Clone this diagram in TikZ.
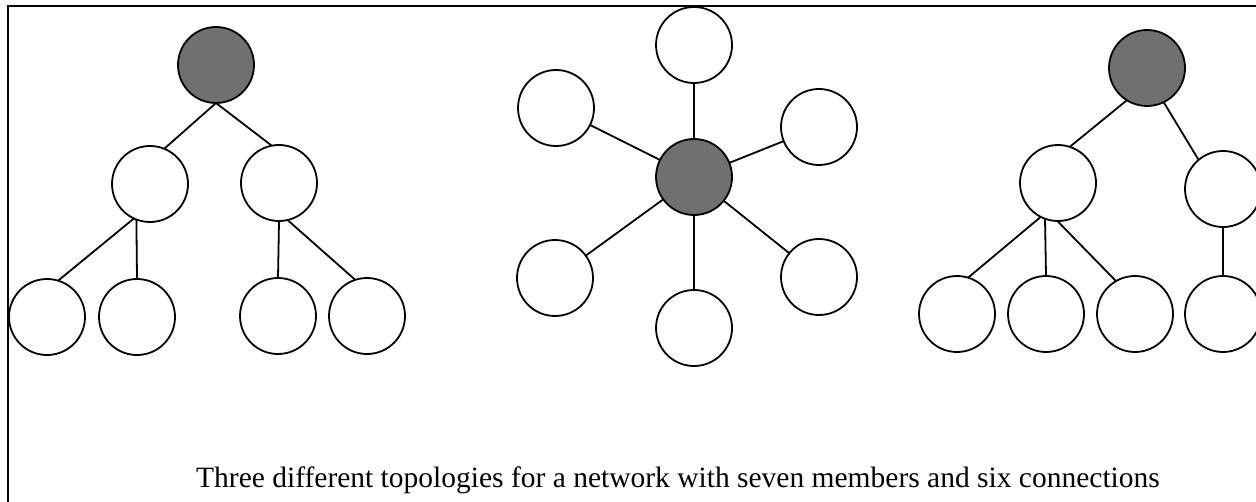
\documentclass[tikz,border=0pt]{standalone}
\usepackage{fontspec}
\setmainfont{Liberation Serif}
\usepackage{tikz}

\begin{document}
\begin{tikzpicture}[x=0.5pt,y=0.5pt,yscale=-1,xscale=1,
  member/.style={circle,draw,line width=0.9pt,minimum size=38pt,inner sep=0pt,outer sep=0pt,fill=white},
  hub/.style={member,fill={rgb, 255:red, 112; green, 112; blue, 112 }},
  link/.style={line width=0.9pt}]
\useasboundingbox (0,0) rectangle (1256,502);
\clip (0,0) rectangle (1256,502);
\draw  [line width=1pt] (7.5,510) -- (7.5,6.5) -- (1262,6.5) ;
% first tree
\draw (216,65) node [hub] (r1) {};
\draw (150,184) node [member] (a1) {};
\draw (279,183) node [member] (a2) {};
\draw (47,317) node [member] (b1) {};
\draw (137,317) node [member] (b2) {};
\draw (278,316) node [member] (b3) {};
\draw (367,316) node [member] (b4) {};
\draw [link] (r1.south) -- (a1.68) ;
\draw [link] (r1.south) -- (a2.101) ;
\draw [link] (a1.-115) -- (b1.73) ;
\draw [link] (a1.-111) -- (b2.north) ;
\draw [link] (a2.south) -- (b3.north) ;
\draw [link] (a2.-77) -- (b4.108) ;
% star
\draw (694,177) node [hub] (s0) {};
\draw (694,45) node [member] (s1) {};
\draw (556,108) node [member] (s2) {};
\draw (819,127) node [member] (s3) {};
\draw (555,278) node [member] (s4) {};
\draw (819,277) node [member] (s5) {};
\draw (694,328) node [member] (s6) {};
\foreach \i in {1,...,6}
  \draw [link] (s0) -- (s\i) ;
% second tree
\draw (1147,68) node [hub] (r3) {};
\draw (1058,183) node [member] (c1) {};
\draw (1223,189) node [member] (c2) {};
\draw (957,314) node [member] (d1) {};
\draw (1046,314) node [member] (d2) {};
\draw (1135,314) node [member] (d3) {};
\draw (1223,314) node [member] (d4) {};
\draw [link] (r3.-122) -- (c1.72) ;
\draw [link] (r3.-64) -- (c2.130) ;
\draw [link] (c1.-117) -- (d1.73) ;
\draw [link] (c1.-110) -- (d2.north) ;
\draw [link] (c1.-91) -- (d3.120) ;
\draw [link] (c2.south) -- (d4.north) ;
% caption
\draw (678,487) node [anchor=base,inner sep=0pt,font=\fontsize{14.75pt}{18pt}\selectfont] (cap) {Three different topologies for a network with seven members and six connections};
\end{tikzpicture}
\end{document}
